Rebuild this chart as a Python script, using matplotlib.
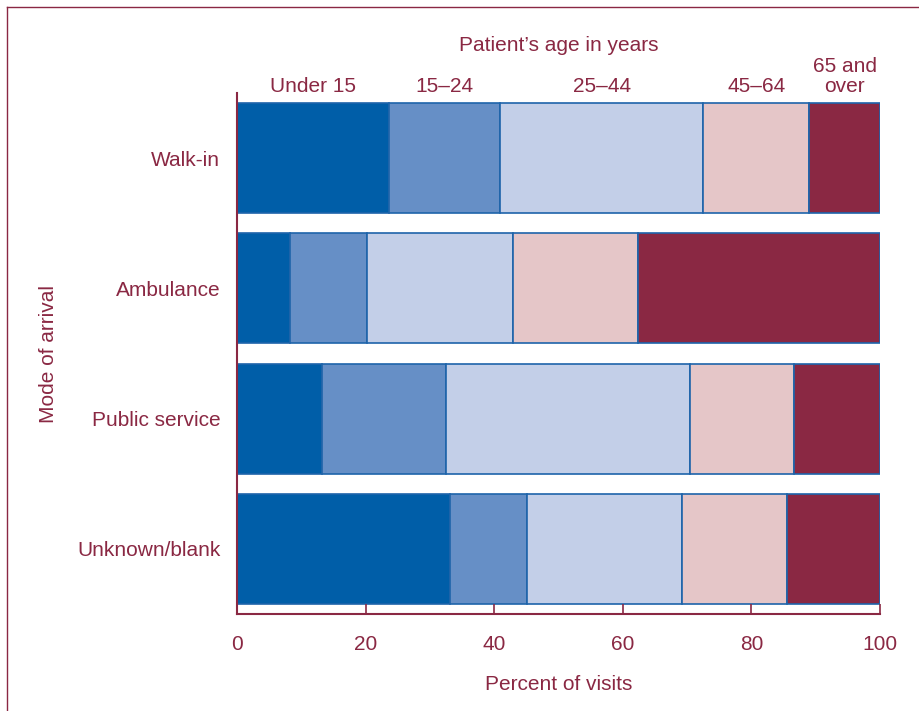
import matplotlib.pyplot as plt
import numpy as np
from matplotlib.lines import Line2D

plt.rcParams['font.family'] = ['Liberation Sans', 'DejaVu Sans']

# Categories and age groups
modes = ['Walk-in', 'Ambulance', 'Public service', 'Unknown/blank']
age_groups = ['Under 15', '15\u201324', '25\u201344', '45\u201364', '65 and\nover']

# Percent of visits per age group (one list per mode)
walk_in = [23.6, 17.3, 31.6, 16.5, 11.0]
ambulance = [8.2, 12.0, 22.7, 19.5, 37.6]
public_service = [13.2, 19.3, 37.9, 16.2, 13.4]
unknown_blank = [33.1, 12.0, 24.1, 16.3, 14.5]

colors = ['#005EA8', '#668FC6', '#C3CFE8', '#E5C6C8', '#8A2843']
text_color = '#8A2843'
edge_color = '#1E64AA'
fs = 15

values = np.array([walk_in, ambulance, public_service, unknown_blank])

fig = plt.figure(figsize=(9.2, 7.11), dpi=100)
ax = fig.add_axes([0.2576, 0.1364, 0.6989, 0.7328])

y = np.arange(len(modes))
left = np.zeros(len(modes))
for k in range(len(age_groups)):
    ax.barh(y, values[:, k], left=left, height=0.846, color=colors[k],
            edgecolor=edge_color, linewidth=1.2)
    left += values[:, k]

# Age group labels centred over the walk-in segments
starts = np.concatenate([[0], np.cumsum(walk_in)[:-1]])
for k, lab in enumerate(age_groups):
    ax.text(starts[k] + walk_in[k] / 2, -0.5 + 0.02, lab, ha='center', va='bottom',
            color=text_color, fontsize=fs, linespacing=1.05)
ax.text(50, -0.5 - 0.29, "Patient\u2019s age in years", ha='center', va='bottom',
        color=text_color, fontsize=fs)

ax.set_xlim(0, 100)
ax.set_ylim(3.5, -0.5)
ax.set_yticks(y)
ax.set_yticklabels(modes)
ax.set_xticks([0, 20, 40, 60, 80, 100])

ax.tick_params(axis='y', length=0, pad=12, labelsize=fs, labelcolor=text_color)
ax.tick_params(axis='x', direction='in', length=7, width=1.2, color=text_color,
               pad=15, labelsize=fs, labelcolor=text_color)

for side in ['top', 'right']:
    ax.spines[side].set_visible(False)
for side in ['left', 'bottom']:
    ax.spines[side].set_color(text_color)
    ax.spines[side].set_linewidth(1.5)

ax.set_xlabel('Percent of visits', color=text_color, fontsize=fs, labelpad=15)
ax.set_ylabel('Mode of arrival', color=text_color, fontsize=fs, labelpad=14)

# Outer frame (top and left edges)
fig.add_artist(Line2D([7 / 920, 1], [1 - 7 / 711, 1 - 7 / 711], color=text_color, lw=1))
fig.add_artist(Line2D([7 / 920, 7 / 920], [0, 1 - 7 / 711], color=text_color, lw=1))

fig.savefig('out.png', dpi=100)
